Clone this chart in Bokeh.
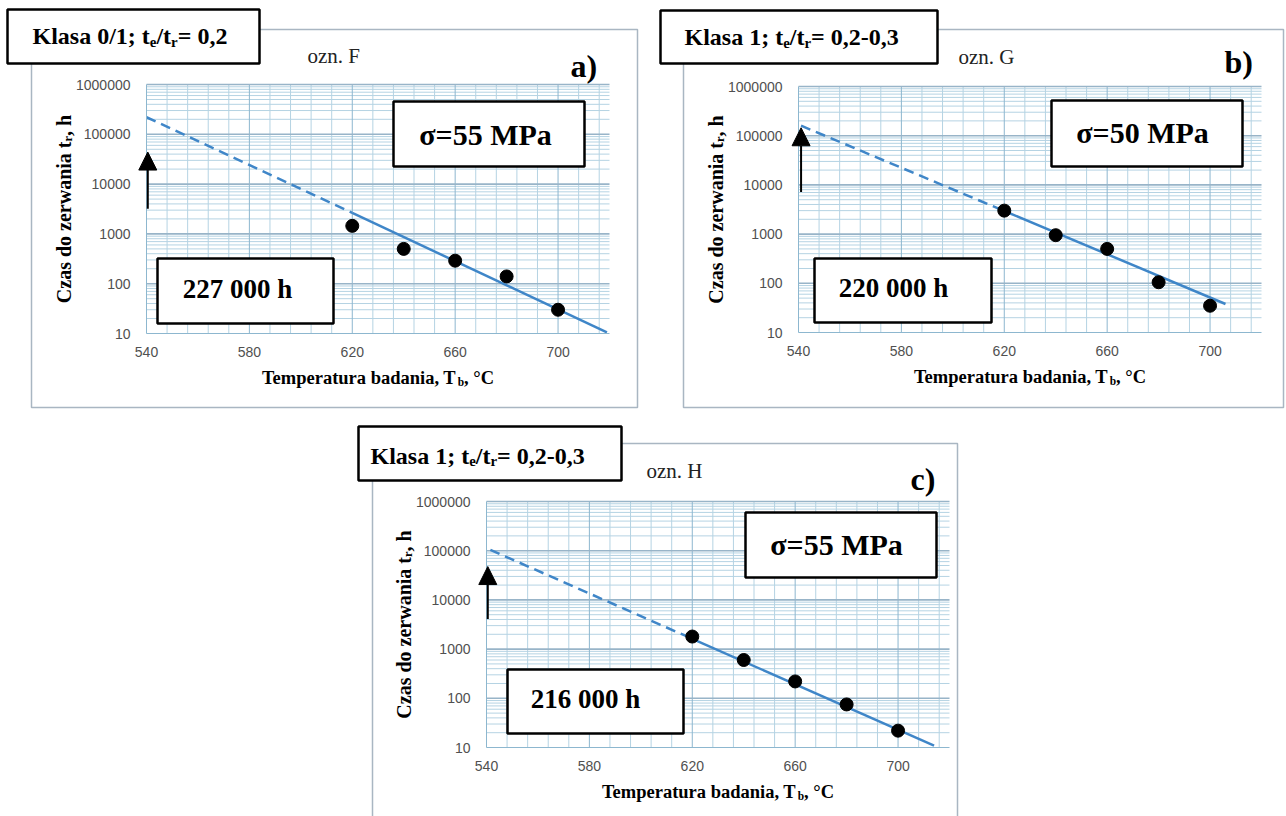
import math
from bokeh.plotting import figure
from bokeh.models import (Range1d, LinearScale, LogScale, FixedTicker, Label, BoxAnnotation,
                          Arrow, NormalHead, LinearAxis, LogAxis)
from bokeh.embed import file_html
from bokeh.resources import INLINE

# ---------------- data ----------------
temps = [620, 640, 660, 680, 700]
tr_F = [1450, 500, 290, 140, 30]
tr_G = [3000, 950, 500, 105, 35]
tr_H = [1800, 600, 220, 75, 22]

trend_F_T = [540, 620, 719]
trend_F_t = [220000, 2650, 10.5]
trend_G_T = [541, 620, 706]
trend_G_t = [160000, 2950, 38]
trend_H_T = [541.5, 620, 714]
trend_H_t = [104000, 1620, 10.9]

arrow_F = [540.5, 3200, 44000]
arrow_G = [541, 7200, 145000]
arrow_H = [540.5, 4070, 47600]

x_ticks = [540, 580, 620, 660, 700]
y_ticks = [10, 100, 1000, 10000, 100000, 1000000]
y_tick_labels = ["10", "100", "1000", "10000", "100000", "1000000"]

titles = [
    [("Klasa 0/1; t", False), ("e", True), ("/t", False), ("r", True), ("= 0,2", False)],
    [("Klasa 1; t", False), ("e", True), ("/t", False), ("r", True), ("= 0,2-0,3", False)],
    [("Klasa 1; t", False), ("e", True), ("/t", False), ("r", True), ("= 0,2-0,3", False)],
]
ozn = ["ozn. F", "ozn. G", "ozn. H"]
letters = ["a)", "b)", "c)"]
sigma = ["σ=55 MPa", "σ=50 MPa", "σ=55 MPa"]
hours = ["227 000 h", "220 000 h", "216 000 h"]
ylabel_parts = [("Czas do zerwania t", False), ("r", True), (", h", False)]
xlabel_parts = [("Temperatura badania, T", False), ("b", True), (", °C", False)]

# ---------------- page / styling ----------------
W, H = 1286, 816
X0, X1 = 540, 720
SERIF = "Liberation Serif"
SANS = "Liberation Sans"
BLUE = "#3f86c8"
TB = {' ': 250, '!': 333, ',': 250, '-': 333, '.': 250, '/': 278, ';': 333, '=': 570,
      '°': 400, '(': 333, ')': 333, 'C': 722, 'F': 611, 'G': 778, 'H': 778, 'K': 778,
      'M': 944, 'P': 611, 'T': 667, 'a': 500, 'b': 556, 'c': 444, 'd': 556, 'e': 444,
      'h': 556, 'i': 278, 'l': 278, 'm': 833, 'n': 556, 'o': 500, 'p': 556, 'r': 444,
      's': 389, 't': 333, 'u': 556, 'w': 722, 'z': 444}
for d in "0123456789":
    TB[d] = 500

# plot-area pixel boxes of the three panels (left, right, top, bottom)
frames = [(146, 609, 84, 333), (798, 1261, 86, 332), (486, 949, 501, 747)]

extra_x, extra_y, extra_xs, extra_ys = {}, {}, {}, {}
for i, (L, R, T, B) in enumerate(frames):
    k = (X1 - X0) / (R - L)
    extra_x[f"x{i}"] = Range1d(X0 - L * k, X0 + (W - L) * k)
    d = 5.0 / (B - T)
    extra_y[f"y{i}"] = Range1d(10 ** (1 - (H - B) * d), 10 ** (6 + T * d))
    extra_xs[f"x{i}"] = LinearScale()
    extra_ys[f"y{i}"] = LogScale()

p = figure(width=W, height=H, x_range=Range1d(0, W), y_range=Range1d(H, 0),
           output_backend="svg", toolbar_location=None, min_border=0,
           x_axis_location=None, y_axis_location=None,
           extra_x_ranges=extra_x, extra_y_ranges=extra_y,
           extra_x_scales=extra_xs, extra_y_scales=extra_ys,
           outline_line_color=None, background_fill_color="white", border_fill_color="white")
p.xgrid.visible = False
p.ygrid.visible = False


def twidth(txt, fs):
    return sum(TB.get(c, 500) for c in txt) * fs / 1000.0


def seg_text(x, y, parts, size, angle=0.0, align="left"):
    """y (or x when rotated) is the vertical centre of the capitals."""
    sub_fs = size * 0.62
    sub_off = size * 0.24
    total = sum(twidth(t, sub_fs if s else size) for t, s in parts)
    pos = -total / 2 if align == "center" else 0.0
    for txt, sub in parts:
        fs = sub_fs if sub else size
        off = sub_off if sub else 0
        if angle == 0:
            lx, ly = x + pos, y + off
        else:
            lx, ly = x + off, y - pos
        p.add_layout(Label(x=lx, y=ly, text=txt, angle=angle, text_font=SERIF,
                           text_font_size=f"{fs:.1f}px", text_font_style="bold",
                           text_color="black", text_baseline="middle", text_align="left"))
        pos += twidth(txt, fs)


def box(l, r, t, b, lw=2.5, color="black", fill="white", falpha=1.0):
    p.add_layout(BoxAnnotation(left=l, right=r, top=t, bottom=b, fill_color=fill,
                               fill_alpha=falpha, line_color=color, line_alpha=1.0,
                               line_width=lw))


def label(x, y, txt, fs, style="bold", align="left", font=SERIF, color="black"):
    p.add_layout(Label(x=x, y=y, text=txt, text_font=font, text_font_size=f"{fs}px",
                       text_font_style=style, text_color=color, text_align=align,
                       text_baseline="middle"))


def panel(i, T, tr, trT, trt, arr, geo):
    L, R, Tp, B = frames[i]
    xn, yn = f"x{i}", f"y{i}"
    rn = dict(x_range_name=xn, y_range_name=yn)
    # grid lines
    vminor = [X0 + 8 * k for k in range(1, 23) if (8 * k) % 40]
    vmajor = x_ticks[1:]
    hminor = [m * 10 ** e for e in range(1, 6) for m in range(2, 10)]
    hmajor = y_ticks[1:]
    p.segment(x0=vminor, y0=[10] * len(vminor), x1=vminor, y1=[1e6] * len(vminor),
              line_color="#b5d3e3", line_width=1, **rn)
    p.segment(x0=[X0] * len(hminor), y0=hminor, x1=[X1] * len(hminor), y1=hminor,
              line_color="#b5d3e3", line_width=1, **rn)
    p.segment(x0=vmajor, y0=[10] * len(vmajor), x1=vmajor, y1=[1e6] * len(vmajor),
              line_color="#8db7cf", line_width=1, **rn)
    p.segment(x0=[X0] * len(hmajor), y0=hmajor, x1=[X1] * len(hmajor), y1=hmajor,
              line_color="#98b4c8", line_width=1.6, **rn)
    # axes
    xax = LinearAxis(fixed_location=10, bounds=(X0, X1), ticker=FixedTicker(ticks=x_ticks), **rn)
    yax = LogAxis(fixed_location=X0, bounds=(10, 1e6), ticker=FixedTicker(ticks=y_ticks), **rn)
    yax.major_label_overrides = {v: s for v, s in zip(y_ticks, y_tick_labels)}
    for ax in (xax, yax):
        ax.major_tick_in = 0
        ax.major_tick_out = 0
        ax.minor_tick_in = 0
        ax.minor_tick_out = 0
        ax.axis_line_color = "#8db7cf"
        ax.major_label_text_font = SANS
        ax.major_label_text_font_size = "14px"
        ax.major_label_text_color = "#505050"
    yax.major_label_standoff = 16
    xax.major_label_standoff = 13
    p.add_layout(xax, "below")
    p.add_layout(yax, "left")

    # data
    p.line(trT[:2], trt[:2], line_color=BLUE, line_width=2.5, line_dash="10 6", **rn)
    p.line(trT[1:], trt[1:], line_color=BLUE, line_width=2.5, **rn)
    p.scatter(T, tr, size=13, color="black", **rn)
    p.add_layout(Arrow(x_start=arr[0], y_start=arr[1], x_end=arr[0], y_end=arr[2],
                       line_color="black", line_width=2,
                       end=NormalHead(size=18, fill_color="black", line_color="black"), **rn))

    # decorations (page pixel coordinates)
    g = geo
    box(*g["frame"], lw=1.5, color="#a9b6c2", fill="white", falpha=0.0)
    box(*g["tbox"])
    seg_text(g["ttext"][0], g["ttext"][1], titles[i], 24)
    label(g["ozn"][0], g["ozn"][1], ozn[i], 21, style="normal", color="#222222")
    label(g["let"][0], g["let"][1], letters[i], 32)
    box(*g["sbox"])
    label(g["stext"][0], g["stext"][1], sigma[i], 30, align="center")
    box(*g["hbox"])
    label(g["htext"][0], g["htext"][1], hours[i], 27, align="center")
    seg_text(L - 83, (Tp + B) / 2, ylabel_parts, 20, angle=math.pi / 2, align="center")
    seg_text((L + R) / 2, B + 44, xlabel_parts, 18.5, align="center")


geoA = dict(frame=(31, 637, 29, 407), tbox=(7, 259, 9, 63), ttext=(32, 35.5),
            ozn=(307, 55), let=(570, 65), sbox=(393, 584, 101, 166), stext=(485, 134),
            hbox=(157, 333, 258, 323), htext=(237, 288))
geoB = dict(frame=(683, 1283, 29, 407), tbox=(660, 937, 10, 63), ttext=(684, 36.5),
            ozn=(958, 56), let=(1224, 61), sbox=(1051, 1242, 100, 166), stext=(1142, 131.5),
            hbox=(814, 991, 258, 322), htext=(893, 287))
geoC = dict(frame=(372, 957, 443, 840), tbox=(358, 621, 426, 480),
            ttext=(370, 455), ozn=(646, 470), let=(910, 478), sbox=(745, 936, 512, 577),
            stext=(836, 544), hbox=(507, 683, 669, 733), htext=(585, 698))

panel(0, temps, tr_F, trend_F_T, trend_F_t, arrow_F, geoA)
panel(1, temps, tr_G, trend_G_T, trend_G_t, arrow_G, geoB)
panel(2, temps, tr_H, trend_H_T, trend_H_t, arrow_H, geoC)

open("out.html", "w").write(file_html(p, INLINE))
